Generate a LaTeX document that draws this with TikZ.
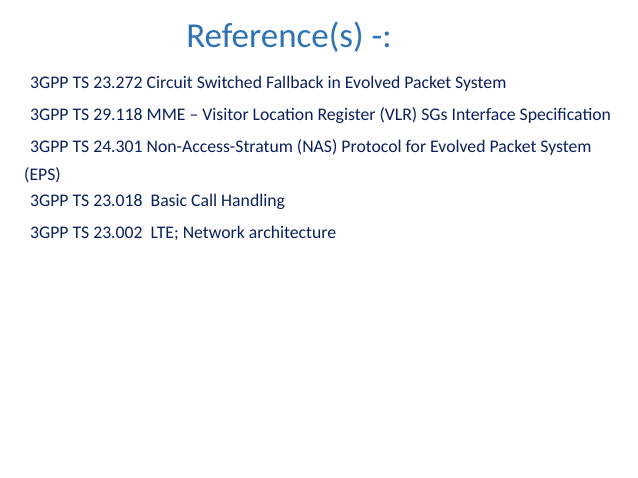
\documentclass[tikz,border=0pt]{standalone}
\usepackage{fontspec}
\setmainfont{Carlito}
\definecolor{titleblue}{HTML}{2E74B5}
\definecolor{bodynavy}{HTML}{0B1F5C}
\begin{document}
\begin{tikzpicture}[x=1pt,y=-1pt,
  ref/.style={anchor=base west,inner sep=0pt,text=bodynavy,font=\fontsize{17.7}{21}\selectfont}]
\useasboundingbox[fill=white] (0,0) rectangle (638,478);
\node[anchor=base,inner sep=0pt,text=titleblue,font=\fontsize{35}{42}\selectfont] (title) at (289,48) {Reference(s) -:};
\node[ref] (r1) at (30,89) {3GPP TS 23.272 Circuit Switched Fallback in Evolved Packet System};
\node[ref] (r2) at (30,121) {3GPP TS 29.118 MME – Visitor Location Register (VLR) SGs Interface Specification};
\node[ref] (r3) at (30,153) {3GPP TS 24.301 Non-Access-Stratum (NAS) Protocol for Evolved Packet System};
\node[ref] (r3b) at (24,181) {(EPS)};
\node[ref] (r4) at (30,207) {3GPP TS 23.018\ \ Basic Call Handling};
\node[ref] (r5) at (30,239) {3GPP TS 23.002\ \ LTE; Network architecture};
\end{tikzpicture}
\end{document}
